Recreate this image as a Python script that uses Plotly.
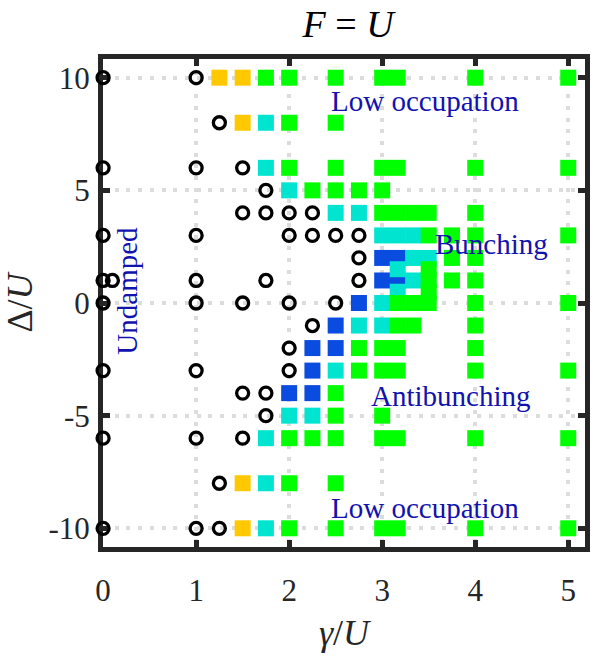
import plotly.graph_objects as go

# ---------------- data ----------------
S1 = 3.1667
S2 = 3.3333

# black open circles (undamped / low gamma)
circle_gamma = [0, 1, 1.25, 0, 1, 1.5, 1.75, 1.5, 1.75, 2, 2.25,
                0, 1, 2, 2.25, 2.5, 2.75, 2.75,
                0, 0.1, 1, 1.75, 2.75, 0, 1, 1.5, 2, 2.5,
                2.25, 2, 0, 1, 2, 1.5, 1.75, 1.75, 0, 1, 1.5,
                1.25, 0, 1, 1.25]
circle_delta = [10, 10, 8, 6, 6, 6, 5, 4, 4, 4, 4,
                3, 3, 3, 3, 3, 3, 2,
                1, 1, 1, 1, 1, 0, 0, 0, 0, 0,
                -1, -2, -3, -3, -3, -4, -4, -5, -6, -6, -6,
                -8, -10, -10, -10]

yellow_gamma = [1.25, 1.5, 1.5, 1.5, 1.5]
yellow_delta = [10, 10, 8, -8, -10]

blue_gamma = [3, S1, 3, S1, 2.75, 2.5, 2.25, 2.5, 2.25, 2, 2.25]
blue_delta = [2, 2, 1, 1, 0, -1, -2, -2, -3, -4, -4]

cyan_gamma = [1.75, 1.75, 2, 2.5, 2.75, 3, S1, S2, S2, 3.5, S1, S2, S1, 3,
              2.75, 3, 2.5, 2, 2.25, 1.75, 1.75, 1.75]
cyan_delta = [8, 6, 5, 4, 4, 3, 3, 3, 2, 2, 1.5, 1, 0.5, 0,
              -1, -1, -3, -5, -5, -6, -8, -10]

green_gamma = [1.75, 2, 2.5, 3, S1, 4, 5,
               2, 2.5,
               2, 2.5, 3, S1, 4, 5,
               2.25, 2.5, 2.75, 3,
               3, S1, S2, 3.5, 4,
               3.5, 3.75, 4, 5,
               3.75, 4,
               3.5,
               3.5, 3.75, 4,
               3.5,
               S1, S2, 3.5, 4, 5,
               S1, S2, 4,
               2.75, 3, S1, 4,
               2.75, 3, S1, 4, 5,
               2.5,
               2.5, 3,
               2, 2.25, 2.5, 3, S1, 4, 5,
               2, 2.5,
               2, 2.5, 3, S1, 4, 5]
green_delta = [10, 10, 10, 10, 10, 10, 10,
               8, 8,
               6, 6, 6, 6, 6, 6,
               5, 5, 5, 5,
               4, 4, 4, 4, 4,
               3, 3, 3, 3,
               2, 2,
               1.5,
               1, 1, 1,
               0.5,
               0, 0, 0, 0, 0,
               -1, -1, -1,
               -2, -2, -2, -2,
               -3, -3, -3, -3, -3,
               -4,
               -5, -5,
               -6, -6, -6, -6, -6, -6, -6,
               -8, -8,
               -10, -10, -10, -10, -10, -10]

x_ticks = [0, 1, 2, 3, 4, 5]
x_ticklabels = ["0", "1", "2", "3", "4", "5"]
y_ticks = [-10, -5, 0, 5, 10]
y_ticklabels = ["-10", "-5", "0", "5", "10"]

labels_text = ["Low occupation", "Bunching", "Undamped", "Antibunching", "Low occupation"]
labels_gamma = [3.46, 4.18, 0.26, 3.74, 3.46]
labels_delta = [8.95, 2.63, 0.56, -4.12, -9.1]
labels_angle = [0, 0, -90, 0, 0]

# ---------------- figure ----------------
SERIF = "Liberation Serif"
SQ = 16

fig = go.Figure()


def squares(gx, dy, color):
    fig.add_trace(go.Scatter(
        x=gx, y=dy, mode="markers", cliponaxis=False, showlegend=False,
        hoverinfo="skip",
        marker=dict(symbol="square", size=SQ, color=color, line=dict(width=0))))


squares(yellow_gamma, yellow_delta, "#FFC800")
squares(blue_gamma, blue_delta, "#0A4BE0")
squares(cyan_gamma, cyan_delta, "#00E4D0")
squares(green_gamma, green_delta, "#00FF00")

fig.add_trace(go.Scatter(
    x=circle_gamma, y=circle_delta, mode="markers", cliponaxis=False,
    showlegend=False, hoverinfo="skip",
    marker=dict(symbol="circle-open", size=12, color="black",
                line=dict(width=3.3, color="black"))))

for t, gx, dy, ang in zip(labels_text, labels_gamma, labels_delta, labels_angle):
    fig.add_annotation(x=gx, y=dy, text=t, showarrow=False, textangle=ang,
                       font=dict(family=SERIF, size=29, color="#1212AE"),
                       xanchor="center", yanchor="middle")

axis_common = dict(
    showline=True, linewidth=5, linecolor="#262626", mirror="ticks",
    ticks="inside", ticklen=7, tickwidth=5, tickcolor="#262626",
    showgrid=True, gridcolor="#DCDCDC", gridwidth=4, griddash="4px,7.7px",
    zeroline=False, layer="below traces",
    tickfont=dict(family=SERIF, size=31, color="#262626"),
)

fig.update_xaxes(range=[-0.001, 5.18], tickvals=x_ticks, ticktext=x_ticklabels,
                 ticklabelstandoff=12,
                 title=dict(text="<i>γ</i>/<i>U</i>", standoff=14,
                            font=dict(family=SERIF, size=36, color="#262626")),
                 **axis_common)
fig.update_yaxes(range=[-10.83, 10.83], tickvals=y_ticks, ticktext=y_ticklabels,
                 ticklabelstandoff=2,
                 title=dict(text="Δ/<i>U</i>", standoff=12,
                            font=dict(family=SERIF, size=36, color="#262626")),
                 **axis_common)

fig.update_layout(
    width=595, height=660,
    margin=dict(l=103, r=4.5, t=58.5, b=113, pad=0),
    plot_bgcolor="white", paper_bgcolor="white",
    title=dict(text="<i>F</i> = <i>U</i>", x=0.585, xanchor="center",
               y=0.9636, yanchor="middle",
               font=dict(family=SERIF, size=38, color="black")),
)

fig.write_html("out.html")
